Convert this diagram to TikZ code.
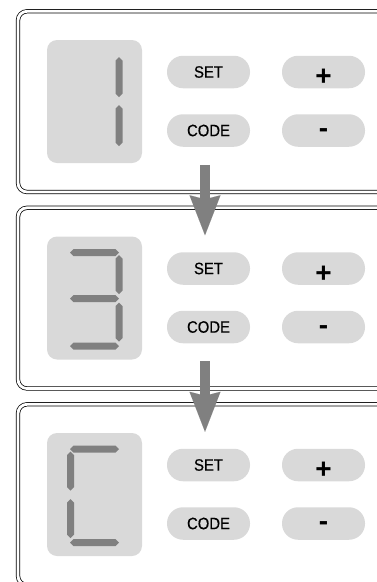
\documentclass[tikz,border=0pt]{standalone}
\usepackage{fontspec}
\setmainfont{Liberation Sans}
\newfontfamily\btnfont[FakeStretch=0.9, FakeBold=0.4]{Liberation Sans}
\usepackage{tikz}
\usetikzlibrary{positioning, calc, arrows.meta}

\definecolor{fondgris}{HTML}{D9D9D9}
\definecolor{segmgris}{HTML}{808080}

% Segments de l'afficheur (horizontal / vertical)
\newcommand{\segH}[2]{\fill[segmgris] #1 -- ++(3.5,-3.5) -- ++({#2-7},0) -- ++(3.5,3.5) -- ++(-3.5,3.5) -- ++({7-#2},0) -- cycle;}
\newcommand{\segV}[2]{\fill[segmgris] #1 -- ++(3.5,3.5) -- ++(0,{#2-7}) -- ++(-3.5,3.5) -- ++(-3.5,-3.5) -- ++(0,{7-#2}) -- cycle;}

\begin{document}
\begin{tikzpicture}[x=1pt, y=-1pt, node distance=2cm]
        % Définition des styles
        \tikzstyle{cadre} = [draw, double, double distance=2.8pt, line width=0.75pt, rounded corners=9pt, minimum width=420pt, minimum height=180.7pt, anchor=north west, outer sep=0pt]
        \tikzstyle{afficheur} = [fill=fondgris, rounded corners=10pt, minimum width=95pt, minimum height=123pt, outer sep=0pt]
        \tikzstyle{bouton} = [fill=fondgris, rounded corners=16pt, minimum width=83pt, minimum height=32.5pt, inner sep=0pt, outer sep=0pt, font=\btnfont\fontsize{16.5}{16.5}\selectfont]
        \tikzstyle{plus} = [bouton, font=\bfseries\fontsize{28}{28}\selectfont, text height=27.5pt, text depth=0pt]
        \tikzstyle{moins} = [bouton, font=\bfseries\fontsize{28}{28}\selectfont, text height=14.5pt, text depth=0pt]
        \tikzstyle{fleche} = [draw=segmgris, line width=10.7pt, -{Stealth[length=40pt, width=31pt, inset=4pt, line width=0.01pt]}, color=segmgris]

        \useasboundingbox (0,0) rectangle (377,582);
        \clip (0,0) rectangle (377,582);

        % Cadres
        \node [cadre] (cadre1) at (18,11.3) {};
        \node [cadre] (cadre2) at (18,207.8) {};
        \node [cadre] (cadre3) at (18,404.3) {};

        % Afficheurs
        \node [afficheur] (disp1) at (94.5,101.5) {};
        \node [afficheur] (disp2) at (94.5,298) {};
        \node [afficheur] (disp3) at (94.5,494.5) {};

        % Boutons - étape 1
        \node [bouton] (set1) at (208.5,72) {SET};
        \node [bouton, below of=set1, node distance=58.5pt] (code1) {CODE};
        \node [plus, right of=set1, node distance=115pt] (plus1) {+};
        \node [moins, right of=code1, node distance=115pt] (moins1) {-};

        % Boutons - étape 2
        \node [bouton] (set2) at (208.5,268.5) {SET};
        \node [bouton, below of=set2, node distance=58.5pt] (code2) {CODE};
        \node [plus, right of=set2, node distance=115pt] (plus2) {+};
        \node [moins, right of=code2, node distance=115pt] (moins2) {-};

        % Boutons - étape 3
        \node [bouton] (set3) at (208.5,465) {SET};
        \node [bouton, below of=set3, node distance=58.5pt] (code3) {CODE};
        \node [plus, right of=set3, node distance=115pt] (plus3) {+};
        \node [moins, right of=code3, node distance=115pt] (moins3) {-};

        % Chiffre 1
        \segV{($(disp1.north west)+(72,17)$)}{40}
        \segV{($(disp1.north west)+(72,65)$)}{41}

        % Chiffre 3
        \segH{($(disp2.north west)+(23,16)$)}{49}
        \segV{($(disp2.north west)+(72,18.5)$)}{39}
        \segH{($(disp2.north west)+(23,62)$)}{49}
        \segV{($(disp2.north west)+(72,66)$)}{39}
        \segH{($(disp2.north west)+(23,109.5)$)}{49}

        % Lettre C
        \segH{($(disp3.north west)+(23,16)$)}{49}
        \segV{($(disp3.north west)+(23.5,18.5)$)}{39}
        \segV{($(disp3.north west)+(23.5,66)$)}{39}
        \segH{($(disp3.north west)+(23,109.5)$)}{49}

        % Flèches entre étapes
        \draw [fleche] ([xshift=-3.5pt,yshift=-18pt]code1.south) -- ([xshift=-3.5pt,yshift=17pt]set2.north);
        \draw [fleche] ([xshift=-3.5pt,yshift=-18pt]code2.south) -- ([xshift=-3.5pt,yshift=17pt]set3.north);
\end{tikzpicture}
\end{document}
